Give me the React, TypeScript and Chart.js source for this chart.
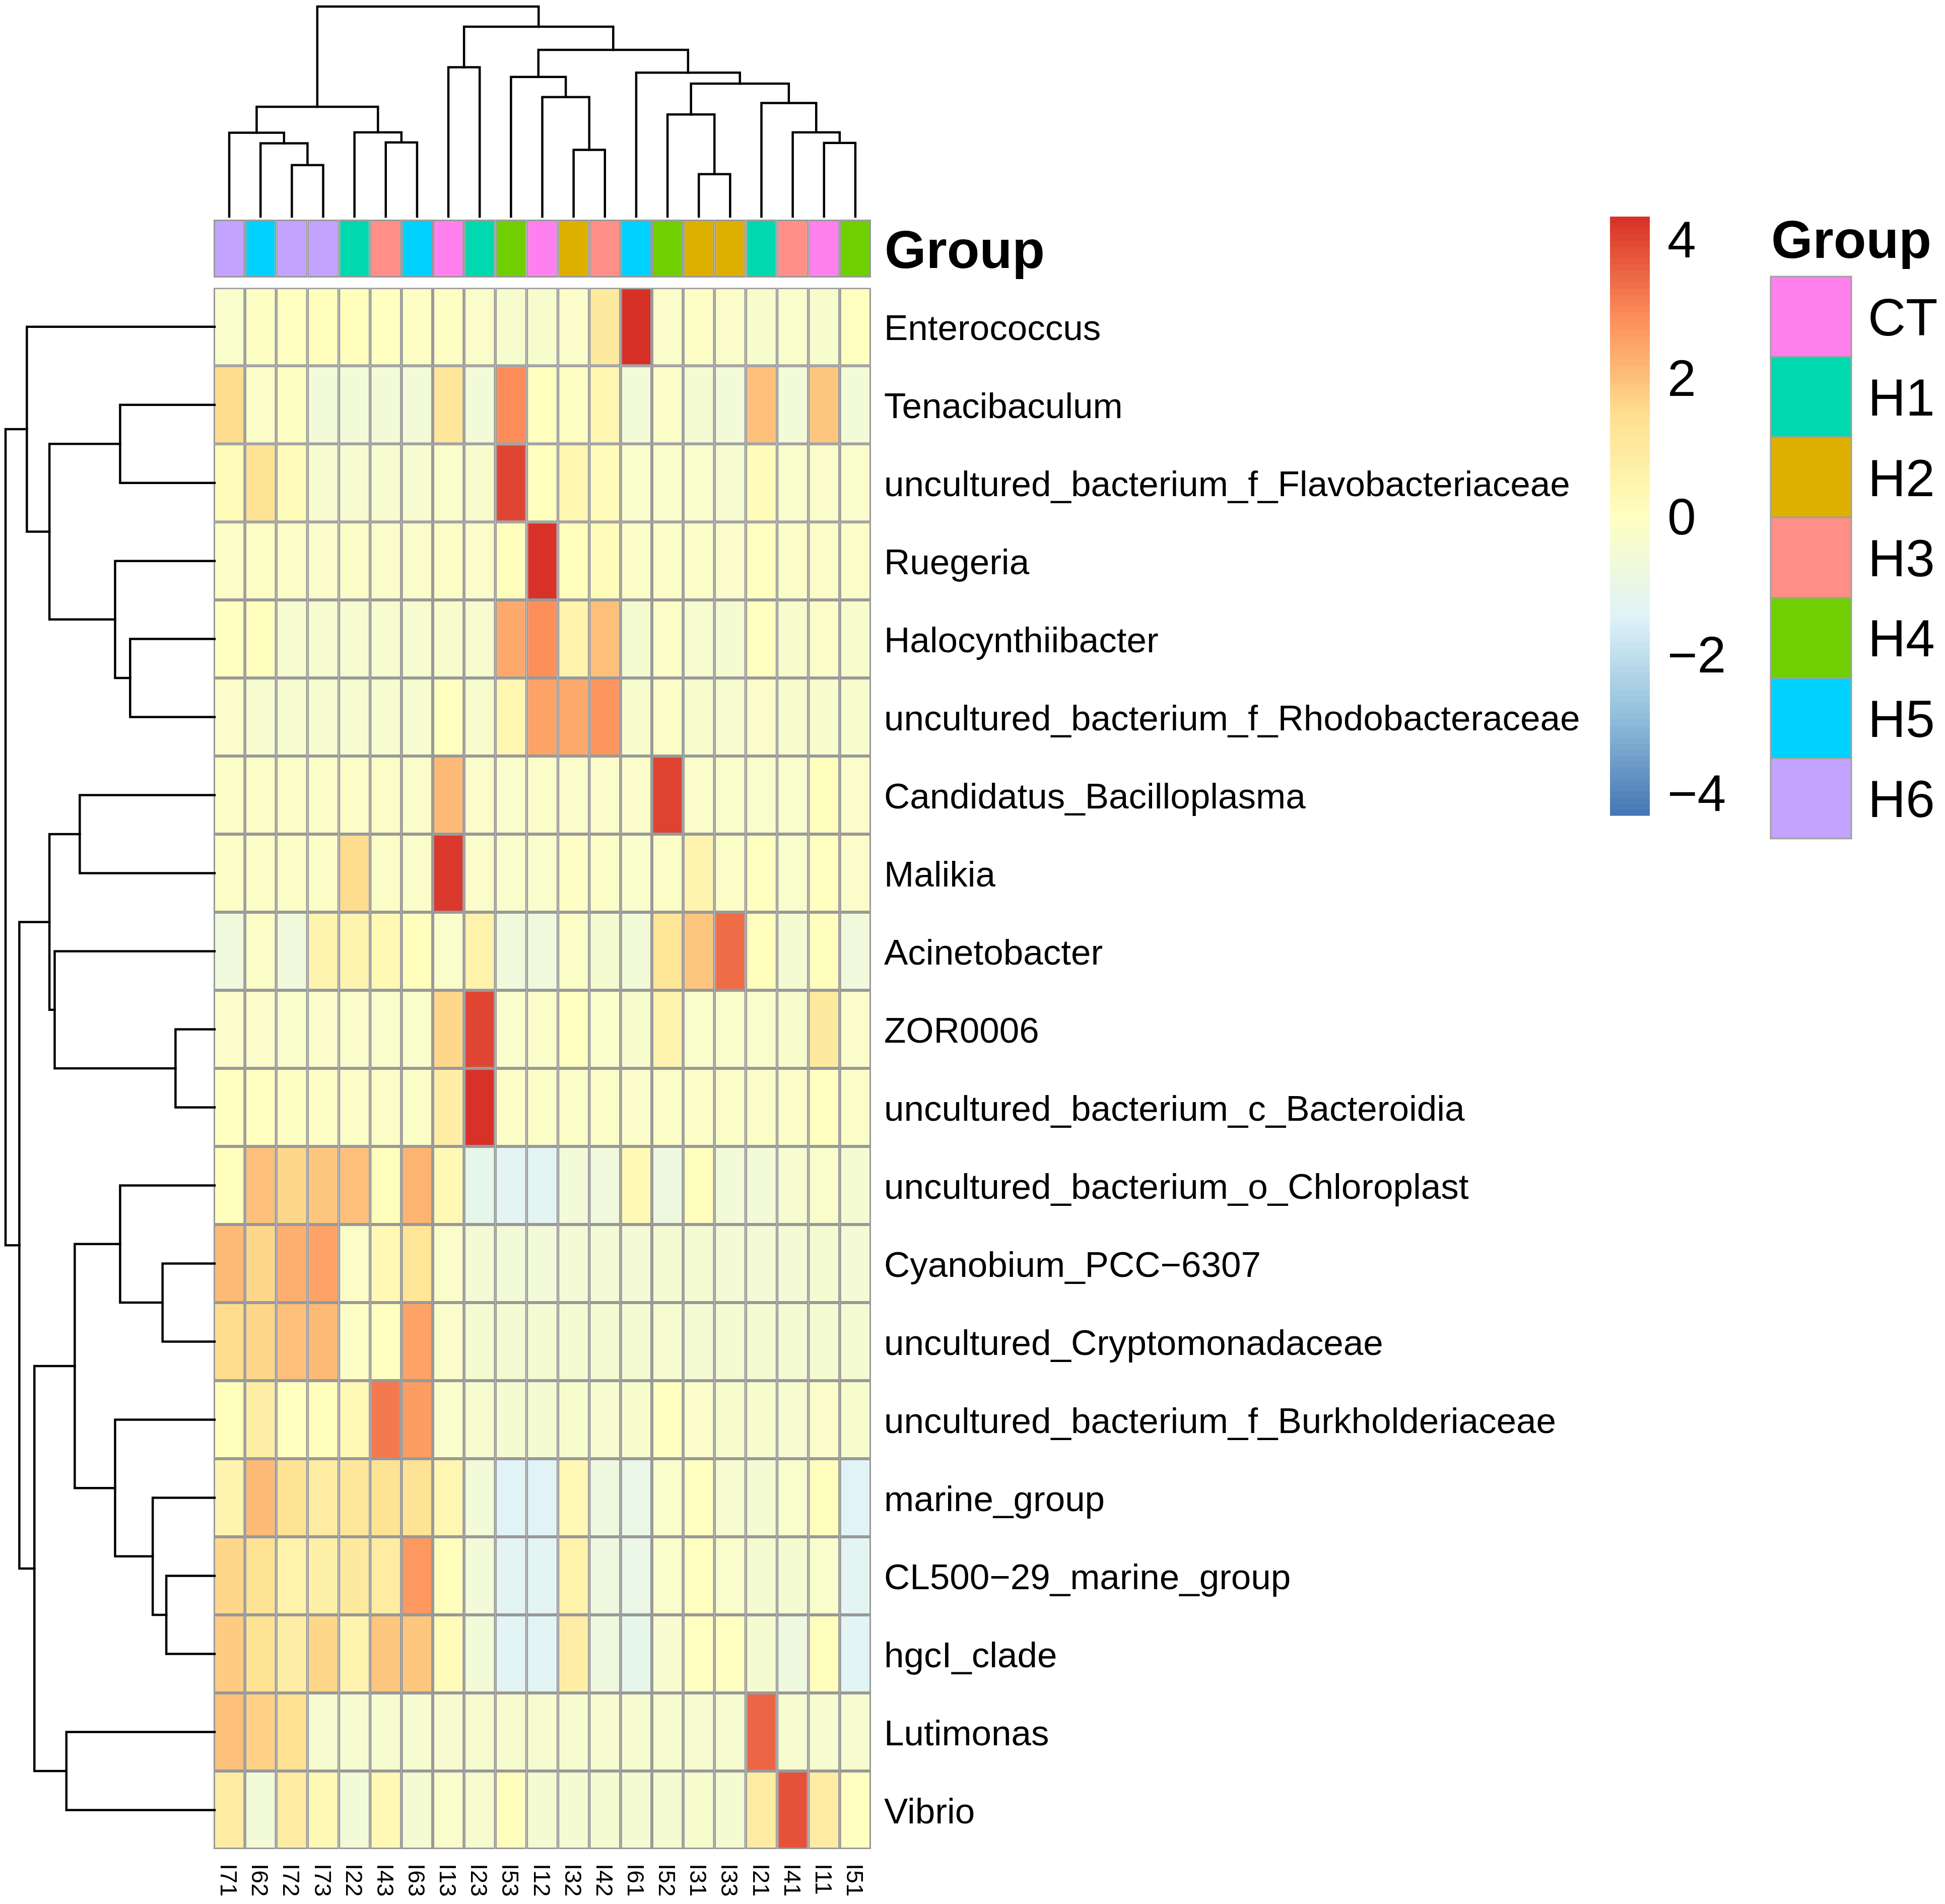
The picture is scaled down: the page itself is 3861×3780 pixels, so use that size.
import React, { useEffect, useRef } from "react";
import { Chart, registerables } from "chart.js";

Chart.register(...registerables);

const CANVAS_W = 3861;
const CANVAS_H = 3780;
const FONT = '"Liberation Sans", Arial, Helvetica, sans-serif';

// ---------- data ----------
const sampleLabels = ["I71", "I62", "I72", "I73", "I22", "I43", "I63", "I13", "I23", "I53", "I12", "I32", "I42", "I61", "I52", "I31", "I33", "I21", "I41", "I11", "I51"];
const sampleGroups = ["H6", "H5", "H6", "H6", "H1", "H3", "H5", "CT", "H1", "H4", "CT", "H2", "H3", "H5", "H4", "H2", "H2", "H1", "H3", "CT", "H4"];
const groupNames = ["CT", "H1", "H2", "H3", "H4", "H5", "H6"];
const groupColors = ["#FF80EE", "#00D8B0", "#DDB000", "#FF8F87", "#6FCF00", "#00D1FF", "#C2A3FF"];

const taxa = [
  "Enterococcus",
  "Tenacibaculum",
  "uncultured_bacterium_f_Flavobacteriaceae",
  "Ruegeria",
  "Halocynthiibacter",
  "uncultured_bacterium_f_Rhodobacteraceae",
  "Candidatus_Bacilloplasma",
  "Malikia",
  "Acinetobacter",
  "ZOR0006",
  "uncultured_bacterium_c_Bacteroidia",
  "uncultured_bacterium_o_Chloroplast",
  "Cyanobium_PCC\u22126307",
  "uncultured_Cryptomonadaceae",
  "uncultured_bacterium_f_Burkholderiaceae",
  "marine_group",
  "CL500\u221229_marine_group",
  "hgcI_clade",
  "Lutimonas",
  "Vibrio",
];

// row z-scores, columns in the displayed sample order
const zEnterococcus = [-0.3, -0.1, -0.05, 0.05, 0.05, -0.05, -0.15, -0.1, -0.25, -0.35, -0.35, -0.25, 1.0, 4.33, -0.25, -0.15, -0.25, -0.35, -0.3, -0.35, 0.0];
const zTenacibaculum = [1.5, -0.2, -0.1, -0.6, -0.6, -0.6, -0.6, 1.1, -0.6, 2.9, 0.0, -0.1, 0.4, -0.6, -0.2, -0.5, -0.6, 2.0, -0.6, 1.9, -0.6];
const zFlavobacteriaceae = [0.2, 1.3, 0.2, -0.4, -0.4, -0.4, -0.4, -0.3, -0.35, 4.0, 0.0, 0.4, 0.2, -0.3, -0.3, -0.3, -0.4, 0.15, -0.3, -0.25, -0.3];
const zRuegeria = [-0.2, -0.15, -0.2, -0.25, -0.2, -0.25, -0.25, -0.2, -0.25, 0.05, 4.3, 0.1, 0.2, -0.2, -0.2, -0.2, -0.25, 0.0, -0.2, -0.2, -0.2];
const zHalocynthiibacter = [0.0, 0.05, -0.4, -0.4, -0.4, -0.4, -0.4, -0.35, -0.4, 2.4, 2.85, 0.55, 2.0, -0.45, -0.2, -0.4, -0.45, 0.0, -0.35, -0.2, -0.35];
const zRhodobacteraceae = [-0.25, -0.4, -0.4, -0.4, -0.4, -0.4, -0.4, 0.0, -0.35, 0.4, 2.5, 2.4, 2.75, -0.35, -0.2, -0.35, -0.4, -0.25, -0.35, -0.35, -0.35];
const zBacilloplasma = [-0.2, -0.2, -0.2, -0.2, -0.2, -0.2, -0.25, 2.1, -0.25, -0.3, -0.25, -0.25, -0.25, -0.25, 4.05, -0.25, -0.3, -0.3, -0.3, 0.05, -0.25];
const zMalikia = [-0.2, -0.2, -0.2, -0.2, 1.5, -0.2, -0.25, 4.2, -0.25, -0.3, -0.3, -0.15, -0.2, -0.3, -0.2, 0.5, -0.2, 0.0, -0.3, 0.0, -0.25];
const zAcinetobacter = [-0.7, -0.2, -0.7, 0.5, 0.5, 0.3, 0.05, -0.3, 0.6, -0.7, -0.7, -0.2, -0.45, -0.6, 1.2, 1.9, 3.4, 0.05, -0.5, 0.05, -0.7];
const zZOR0006 = [-0.25, -0.25, -0.3, -0.25, -0.25, -0.3, -0.3, 1.6, 4.0, -0.3, -0.25, 0.0, -0.3, -0.35, 0.5, -0.3, -0.3, -0.3, -0.35, 1.0, -0.25];
const zBacteroidia = [-0.05, 0.0, -0.1, -0.15, -0.2, -0.2, -0.2, 0.8, 4.3, -0.2, -0.2, -0.2, -0.2, -0.25, -0.2, -0.2, -0.2, -0.2, -0.2, 0.0, -0.2];
const zChloroplast = [0.1, 2.0, 1.6, 1.9, 2.0, 0.1, 2.2, 0.3, -1.1, -1.3, -1.3, -0.6, -0.7, 0.3, -0.8, 0.1, -0.6, -0.6, -0.4, -0.3, -0.5];
const zCyanobium = [2.1, 1.6, 2.3, 2.5, -0.2, 0.3, 1.2, -0.25, -0.55, -0.6, -0.6, -0.55, -0.55, -0.55, -0.45, -0.5, -0.55, -0.55, -0.55, -0.45, -0.55];
const zCryptomonadaceae = [1.5, 1.6, 2.0, 2.1, -0.15, 0.0, 2.5, -0.25, -0.5, -0.5, -0.5, -0.5, -0.5, -0.5, -0.4, -0.5, -0.5, -0.5, -0.5, -0.45, -0.5];
const zBurkholderiaceae = [0.1, 0.8, 0.0, 0.1, 0.3, 3.2, 2.6, -0.3, -0.4, -0.45, -0.45, -0.35, -0.4, -0.35, 0.0, -0.25, -0.35, -0.35, -0.4, -0.25, -0.35];
const zMarineGroup = [0.5, 2.1, 1.3, 0.9, 1.1, 1.3, 1.3, 0.4, -0.6, -1.4, -1.4, 0.3, -0.8, -1.0, -0.3, 0.0, -0.4, -0.5, -0.3, 0.1, -1.4];
const zCL500 = [1.6, 1.3, 0.6, 0.7, 1.0, 0.9, 2.7, 0.1, -0.6, -1.3, -1.3, 0.6, -0.8, -1.0, -0.3, 0.0, -0.3, -0.45, -0.45, -0.3, -1.3];
const zHgcI = [1.8, 1.3, 0.8, 1.6, 0.5, 1.9, 1.9, 0.2, -0.6, -1.35, -1.35, 0.8, -0.8, -1.1, -0.4, 0.0, 0.0, -0.45, -0.8, 0.1, -1.35];
const zLutimonas = [2.0, 1.7, 1.4, -0.4, -0.4, -0.4, -0.4, -0.4, -0.4, -0.4, -0.4, -0.4, -0.4, -0.4, -0.4, -0.4, -0.4, 3.5, -0.4, -0.4, -0.4];
const zVibrio = [0.9, -0.6, 0.9, 0.3, -0.6, 0.3, -0.5, -0.3, -0.4, 0.1, -0.5, -0.5, -0.45, -0.5, -0.45, -0.35, -0.45, 0.9, 3.8, 0.9, 0.0];

const zRows = [
  zEnterococcus, zTenacibaculum, zFlavobacteriaceae, zRuegeria, zHalocynthiibacter,
  zRhodobacteraceae, zBacilloplasma, zMalikia, zAcinetobacter, zZOR0006,
  zBacteroidia, zChloroplast, zCyanobium, zCryptomonadaceae, zBurkholderiaceae,
  zMarineGroup, zCL500, zHgcI, zLutimonas, zVibrio,
];

// dendrograms: [left, right, mergeHeight] (height relative to root = 1), leaves are display indices
type TreeNode = number | [TreeNode, TreeNode, number];
const colTree: TreeNode = [
  [[0, [1, [2, 3, 0.245], 0.349], 0.399], [4, [5, 6, 0.353], 0.401], 0.523],
  [
    [7, 8, 0.711],
    [
      [9, [10, [11, 12, 0.318], 0.569], 0.665],
      [13, [[14, [15, 16, 0.202], 0.486], [17, [18, [19, 20, 0.351], 0.401], 0.541], 0.633], 0.685],
      0.794,
    ],
    0.904,
  ],
  1.0,
];
const rowTree: TreeNode = [
  [0, [[1, 2, 0.452], [3, [4, 5, 0.404], 0.476], 0.79], 0.898],
  [
    [[6, 7, 0.645], [8, [9, 10, 0.187], 0.765], 0.79],
    [
      [[11, [12, 13, 0.249], 0.452], [14, [15, [16, 17, 0.231], 0.296], 0.476], 0.669],
      [18, 19, 0.709],
      0.862,
    ],
    0.934,
  ],
  1.0,
];

const colorbarTicks = [4, 2, 0, -2, -4];
const zLimit = 4.33;
const heatStops = ["#4575B4", "#91BFDB", "#E0F3F8", "#FFFFBF", "#FEE090", "#FC8D59", "#D73027"];

// ---------- helpers ----------
function hexToRgb(h: string): number[] {
  const n = parseInt(h.slice(1), 16);
  return [(n >> 16) & 255, (n >> 8) & 255, n & 255];
}
function heatColor(v: number): string {
  const t = Math.max(0, Math.min(1, (v + zLimit) / (2 * zLimit)));
  const s = t * (heatStops.length - 1);
  const i = Math.min(Math.floor(s), heatStops.length - 2);
  const f = s - i;
  const a = hexToRgb(heatStops[i]);
  const b = hexToRgb(heatStops[i + 1]);
  const c = a.map((x, k) => Math.round(x + (b[k] - x) * f));
  return `rgb(${c[0]},${c[1]},${c[2]})`;
}
const minusify = (v: number) => (v < 0 ? "\u2212" + Math.abs(v) : String(v));

const GAP_UNITS = 0.13;
const ANNOT_UNITS = 0.742;
const annotBottom = taxa.length + GAP_UNITS;
const annotTop = annotBottom + ANNOT_UNITS;

function drawTree(
  ctx: CanvasRenderingContext2D,
  node: TreeNode,
  leafPos: (i: number) => number,
  heightPos: (h: number) => number,
  leavesAlongX: boolean
) {
  const walk = (n: TreeNode): { p: number; h: number } => {
    if (typeof n === "number") return { p: leafPos(n), h: 0 };
    const a = walk(n[0]);
    const b = walk(n[1]);
    const h = n[2];
    const pts = [
      [a.p, heightPos(a.h)],
      [a.p, heightPos(h)],
      [b.p, heightPos(h)],
      [b.p, heightPos(b.h)],
    ];
    ctx.beginPath();
    pts.forEach(([p, q], i) => {
      const x = leavesAlongX ? p : q;
      const y = leavesAlongX ? q : p;
      if (i === 0) ctx.moveTo(x, y);
      else ctx.lineTo(x, y);
    });
    ctx.stroke();
    return { p: (a.p + b.p) / 2, h };
  };
  walk(node);
}

const overlayPlugin = {
  id: "heatmapOverlay",
  afterDraw(chart: any) {
    const ctx: CanvasRenderingContext2D = chart.ctx;
    const xs = chart.scales.x;
    const ys = chart.scales.y;
    const area = chart.chartArea;
    const rowY = (r: number) => ys.getPixelForValue(taxa.length - 1 - r + 0.5);
    const colX = (c: number) => xs.getPixelForValue(c);

    ctx.save();
    // dendrograms
    ctx.strokeStyle = "#000";
    ctx.lineWidth = 4.5;
    ctx.lineCap = "square";
    const colLeafY = area.top - 6;
    const colRootY = 13;
    drawTree(ctx, colTree, colX, (h) => colLeafY - h * (colLeafY - colRootY), true);
    const rowLeafX = area.left + 2;
    const rowRootX = 11;
    drawTree(ctx, rowTree, rowY, (h) => rowLeafX - h * (rowLeafX - rowRootX), false);

    // row labels
    ctx.fillStyle = "#000";
    ctx.textAlign = "left";
    ctx.textBaseline = "alphabetic";
    ctx.font = `71px ${FONT}`;
    taxa.forEach((name, r) => ctx.fillText(name, area.right + 26, rowY(r) + 26));

    // annotation name
    const annotMid = (ys.getPixelForValue(annotBottom) + ys.getPixelForValue(annotTop)) / 2;
    ctx.font = `bold 106px ${FONT}`;
    ctx.fillText("Group", area.right + 27, annotMid + 38);

    // column labels (rotated, reading top-to-bottom)
    ctx.font = `47px ${FONT}`;
    sampleLabels.forEach((lab, c) => {
      ctx.save();
      ctx.translate(colX(c), area.bottom + 29);
      ctx.rotate(Math.PI / 2);
      ctx.textAlign = "left";
      ctx.fillText(lab, 0, 17);
      ctx.restore();
    });

    // colour bar legend
    const barX = 3196;
    const barW = 79;
    const barTop = 430;
    const barBottom = 1619;
    const yOf = (v: number) => barTop + ((zLimit - v) / (2 * zLimit)) * (barBottom - barTop);
    const steps = 100;
    for (let i = 0; i < steps; i++) {
      const v0 = zLimit - (i / steps) * 2 * zLimit;
      const v1 = zLimit - ((i + 1) / steps) * 2 * zLimit;
      ctx.fillStyle = heatColor((v0 + v1) / 2);
      const y0 = yOf(v0);
      const y1 = yOf(v1);
      ctx.fillRect(barX, y0, barW, y1 - y0 + 0.6);
    }
    ctx.fillStyle = "#000";
    ctx.font = `102px ${FONT}`;
    colorbarTicks.forEach((v) => ctx.fillText(minusify(v), 3310, yOf(v) + 36));

    // group legend
    ctx.font = `bold 106px ${FONT}`;
    ctx.fillText("Group", 3516, 512);
    const boxX = 3515;
    const boxW = 160;
    const boxTop = 549;
    const boxH = 159.4;
    groupNames.forEach((g, i) => {
      const y = boxTop + i * boxH;
      ctx.fillStyle = groupColors[i];
      ctx.fillRect(boxX, y, boxW, boxH);
      ctx.strokeStyle = "#A0A0A0";
      ctx.lineWidth = 3;
      ctx.strokeRect(boxX, y, boxW, boxH);
      ctx.fillStyle = "#000";
      ctx.font = `104px ${FONT}`;
      ctx.fillText(g, 3708, y + boxH / 2 + 37);
    });
    ctx.restore();
  },
};

export default function App() {
  const canvasRef = useRef<HTMLCanvasElement | null>(null);

  useEffect(() => {
    const canvas = canvasRef.current;
    if (!canvas) return;

    const rowDatasets = taxa
      .map((name, r) => {
        const base = taxa.length - 1 - r;
        return {
          label: name,
          data: sampleLabels.map(() => [base, base + 1]),
          backgroundColor: zRows[r].map(heatColor),
          borderColor: "#999999",
          borderWidth: 3,
          borderSkipped: false,
        };
      })
      .reverse();

    const annotDataset = {
      label: "Group",
      data: sampleLabels.map(() => [annotBottom, annotTop]),
      backgroundColor: sampleGroups.map((g) => groupColors[groupNames.indexOf(g)]),
      borderColor: "#999999",
      borderWidth: 3,
      borderSkipped: false,
    };

    const chart = new Chart(canvas, {
      type: "bar",
      data: {
        labels: sampleLabels,
        datasets: [...rowDatasets, annotDataset] as any,
      },
      options: {
        responsive: false,
        devicePixelRatio: 1,
        animation: false,
        datasets: {
          bar: {
            grouped: false,
            categoryPercentage: 1,
            barPercentage: 1,
            inflateAmount: 0,
          } as any,
        },
        layout: {
          padding: { left: 424, right: CANVAS_W - 1729, top: 436, bottom: CANVAS_H - 3671 },
        },
        scales: {
          x: { type: "category", display: false, offset: true, grid: { display: false } },
          y: { type: "linear", display: false, min: 0, max: annotTop, grid: { display: false } },
        },
        plugins: {
          legend: { display: false },
          tooltip: { enabled: false },
        },
      },
      plugins: [overlayPlugin],
    });

    return () => chart.destroy();
  }, []);

  return (
    <div style={{ position: "absolute", left: 0, top: 0, width: CANVAS_W, height: CANVAS_H, background: "#fff" }}>
      <canvas
        ref={canvasRef}
        width={CANVAS_W}
        height={CANVAS_H}
        style={{ display: "block", width: CANVAS_W, height: CANVAS_H }}
      />
    </div>
  );
}
